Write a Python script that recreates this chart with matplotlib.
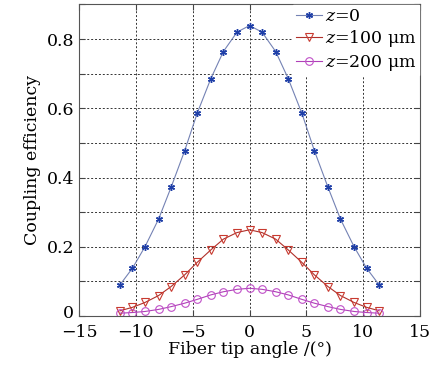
import numpy as np
import matplotlib
matplotlib.use("Agg")
import matplotlib.pyplot as plt
from matplotlib.transforms import ScaledTranslation

# fiber tip angle (deg)
angle = [-11.4, -10.3, -9.2, -8.0, -6.9, -5.7, -4.6, -3.4, -2.3, -1.1, 0.0,
         1.1, 2.3, 3.4, 4.6, 5.7, 6.9, 8.0, 9.2, 10.3, 11.4]

eff_z0 = [0.090, 0.138, 0.200, 0.280, 0.372, 0.478, 0.586, 0.686, 0.764, 0.820, 0.839,
          0.820, 0.764, 0.686, 0.586, 0.478, 0.372, 0.280, 0.200, 0.138, 0.090]
eff_z100 = [0.015, 0.025, 0.039, 0.059, 0.085, 0.119, 0.155, 0.191, 0.222, 0.241, 0.249,
            0.241, 0.222, 0.191, 0.155, 0.119, 0.085, 0.059, 0.039, 0.025, 0.015]
eff_z200 = [0.008, 0.010, 0.013, 0.019, 0.027, 0.037, 0.048, 0.061, 0.070, 0.077, 0.080,
            0.077, 0.070, 0.061, 0.048, 0.037, 0.027, 0.019, 0.013, 0.010, 0.008]

labels = [r"$z$=0", r"$z$=100 μm", r"$z$=200 μm"]
xticks = [-15, -10, -5, 0, 5, 10, 15]
xticklabels = ['−15', '−10', '−5', '0', '5', '10', '15']
yticks = [0, 0.1, 0.2, 0.3, 0.4, 0.5, 0.6, 0.7, 0.8, 0.9]
yticklabels = ['0', '', '0.2', '', '0.4', '', '0.6', '', '0.8', '']

plt.rcParams['font.family'] = ['DejaVu Serif']
plt.rcParams['mathtext.fontset'] = 'dejavuserif'

fig = plt.figure(figsize=(4.44, 3.70), dpi=100)
ax = fig.add_axes([0.178, 0.146, 0.768, 0.842])

ax.plot(angle, eff_z0, color='#7482b4', lw=0.8, marker=(6, 2, 0), ms=5,
        mec='#1f3fa8', mew=1.0, label=labels[0])
ax.plot(angle, eff_z100, color='#b0302a', lw=0.8, marker='v', ms=6,
        mfc='none', mec='#c83a30', mew=0.8, label=labels[1])
ax.plot(angle, eff_z200, color='#b040b8', lw=0.8, marker='o', ms=5.5,
        mfc='none', mec='#c050c8', mew=0.8, label=labels[2])

ax.set_xlim(-15, 15)
ax.set_ylim(0, 0.9)
ax.set_xticks(xticks, xticklabels)
ax.set_yticks(yticks, yticklabels)
ax.tick_params(direction='in', length=4, labelsize=12.5, top=True, right=True, color='#444444')
ax.tick_params(axis='x', pad=6)
ax.grid(True, linestyle=(0, (2, 2)), color='#333333', lw=0.7)
for s in ax.spines.values():
    s.set_color('#555555')

# nudge the "0" y label up a little so it clears "-15"
lab0 = ax.get_yticklabels()[0]
lab0.set_transform(lab0.get_transform() + ScaledTranslation(0, 3 / 72, fig.dpi_scale_trans))

ax.set_xlabel('Fiber tip angle /(°)', fontsize=12.5, labelpad=0)
ax.set_ylabel('Coupling efficiency', fontsize=12.5, labelpad=4)

leg = ax.legend(loc='upper right', frameon=True, fontsize=12.5, handlelength=1.5,
                handletextpad=0.15, borderaxespad=0.05, labelspacing=0.2,
                borderpad=0.15, fancybox=False)
leg.get_frame().set_edgecolor('white')
leg.get_frame().set_alpha(1)

fig.savefig('out.png', dpi=100)
